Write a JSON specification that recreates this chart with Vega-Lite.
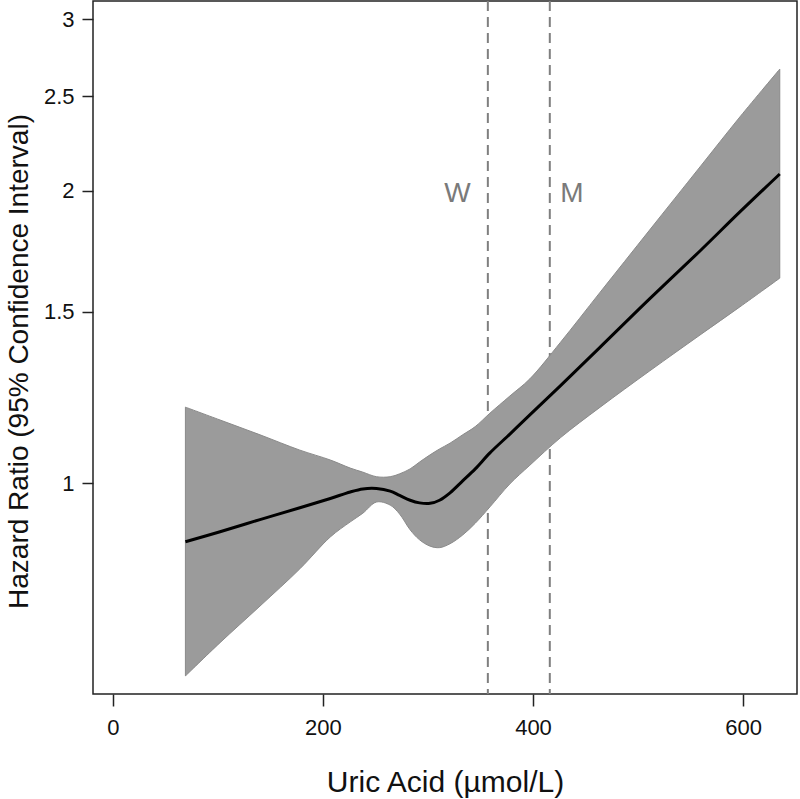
{
  "$schema": "https://vega.github.io/schema/vega-lite/v6.json",
  "width": 704,
  "height": 693,
  "autosize": {"type": "none"},
  "padding": {"left": 93, "top": 1, "right": 3, "bottom": 105},
  "background": "white",
  "config": {
    "view": {"stroke": "#222222", "strokeWidth": 1.5},
    "axis": {"grid": false, "domain": false, "tickColor": "#222222", "tickWidth": 1.5, "labelColor": "#111111", "titleColor": "#111111", "labelFont": "Liberation Sans", "titleFont": "Liberation Sans", "titleFontWeight": "normal"}
  },
  "datasets": {
    "band": [
      {"x": 69, "lo": 0.633, "est": 0.870, "hi": 1.197},
      {"x": 102, "lo": 0.685, "est": 0.891, "hi": 1.161},
      {"x": 140, "lo": 0.747, "est": 0.917, "hi": 1.121},
      {"x": 178, "lo": 0.816, "est": 0.943, "hi": 1.081},
      {"x": 207, "lo": 0.880, "est": 0.964, "hi": 1.056},
      {"x": 226, "lo": 0.912, "est": 0.979, "hi": 1.036},
      {"x": 238, "lo": 0.931, "est": 0.986, "hi": 1.026},
      {"x": 251, "lo": 0.956, "est": 0.987, "hi": 1.015},
      {"x": 264, "lo": 0.949, "est": 0.981, "hi": 1.015},
      {"x": 273, "lo": 0.929, "est": 0.971, "hi": 1.022},
      {"x": 283, "lo": 0.895, "est": 0.960, "hi": 1.034},
      {"x": 292, "lo": 0.874, "est": 0.954, "hi": 1.051},
      {"x": 302, "lo": 0.861, "est": 0.953, "hi": 1.069},
      {"x": 311, "lo": 0.858, "est": 0.960, "hi": 1.084},
      {"x": 321, "lo": 0.866, "est": 0.977, "hi": 1.099},
      {"x": 333, "lo": 0.884, "est": 1.005, "hi": 1.121},
      {"x": 345, "lo": 0.909, "est": 1.034, "hi": 1.143},
      {"x": 359, "lo": 0.945, "est": 1.074, "hi": 1.180},
      {"x": 378, "lo": 0.998, "est": 1.123, "hi": 1.229},
      {"x": 397, "lo": 1.043, "est": 1.175, "hi": 1.280},
      {"x": 426, "lo": 1.113, "est": 1.259, "hi": 1.395},
      {"x": 464, "lo": 1.197, "est": 1.380, "hi": 1.572},
      {"x": 511, "lo": 1.304, "est": 1.547, "hi": 1.821},
      {"x": 559, "lo": 1.420, "est": 1.733, "hi": 2.115},
      {"x": 597, "lo": 1.518, "est": 1.901, "hi": 2.381},
      {"x": 635, "lo": 1.625, "est": 2.080, "hi": 2.667}
    ],
    "cutoffs": [
      {"x": 357, "label": "W", "lx": 328, "ly": 1.946},
      {"x": 416, "label": "M", "lx": 437, "ly": 1.946}
    ]
  },
  "layer": [
    {
      "mark": {"type": "rule", "color": "#4a4a4a", "strokeWidth": 2},
      "encoding": {
        "y": {"datum": 1, "type": "quantitative", "scale": {"type": "log", "domain": [0.6065, 3.134], "nice": false, "zero": false}}
      }
    },
    {
      "data": {"name": "cutoffs"},
      "mark": {"type": "rule", "color": "#7f7f7f", "strokeWidth": 2, "strokeDash": [10, 6]},
      "encoding": {
        "x": {"field": "x", "type": "quantitative", "title": "Uric Acid (µmol/L)", "scale": {"domain": [-19, 651.4], "nice": false, "zero": false}}
      }
    },
    {
      "data": {"name": "band"},
      "mark": {"type": "area", "color": "#9b9b9b", "opacity": 1, "stroke": "#8a8a8a", "strokeWidth": 1, "interpolate": "catmull-rom"},
      "encoding": {
        "x": {"field": "x", "type": "quantitative", "title": "Uric Acid (µmol/L)",
          "scale": {"domain": [-19, 651.4], "nice": false, "zero": false},
          "axis": {"values": [0, 200, 400, 600], "format": "d", "tickSize": 12, "labelFontSize": 22, "labelPadding": 11, "labelFlush": false, "titleFontSize": 30, "titleX": 352, "titleY": 97, "titleBaseline": "alphabetic"}},
        "y": {"field": "lo", "type": "quantitative", "title": "Hazard Ratio (95% Confidence Interval)",
          "scale": {"type": "log", "domain": [0.6065, 3.134], "nice": false, "zero": false},
          "axis": {"values": [1, 1.5, 2, 2.5, 3], "format": "~g", "tickSize": 11, "labelFontSize": 22, "labelPadding": 8, "titleFontSize": 28, "titleAngle": 270, "titleX": -66, "titleY": 360, "titleBaseline": "alphabetic", "titleAlign": "center"}},
        "y2": {"field": "hi"}
      }
    },
    {
      "data": {"name": "band"},
      "mark": {"type": "line", "color": "#000000", "strokeWidth": 3, "interpolate": "catmull-rom"},
      "encoding": {
        "x": {"field": "x", "type": "quantitative", "title": "Uric Acid (µmol/L)"},
        "y": {"field": "est", "type": "quantitative", "title": "Hazard Ratio (95% Confidence Interval)"}
      }
    },
    {
      "data": {"name": "cutoffs"},
      "mark": {"type": "text", "color": "#7a7a7a", "fontSize": 28, "font": "Liberation Sans", "baseline": "alphabetic", "align": "center"},
      "encoding": {
        "x": {"field": "lx", "type": "quantitative", "title": "Uric Acid (µmol/L)"},
        "y": {"field": "ly", "type": "quantitative", "title": "Hazard Ratio (95% Confidence Interval)"},
        "text": {"field": "label"}
      }
    }
  ]
}
